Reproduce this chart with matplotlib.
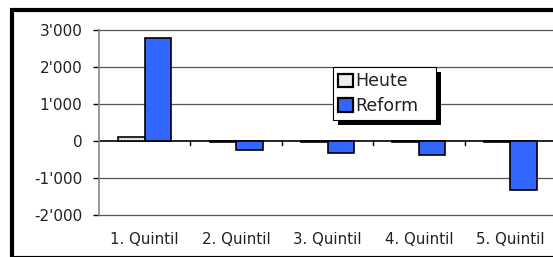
import matplotlib
matplotlib.use("Agg")
import matplotlib.pyplot as plt
import numpy as np
from matplotlib.patches import Rectangle
from matplotlib.ticker import FuncFormatter

categories = ["1. Quintil", "2. Quintil", "3. Quintil", "4. Quintil", "5. Quintil"]
heute = [100, -15, -20, -25, -40]
reform = [2780, -230, -315, -390, -1325]
series_names = ["Heute", "Reform"]

W, H = 553, 257
fig = plt.figure(figsize=(W / 100, H / 100), dpi=100)
plt.rcParams['font.family'] = ['DejaVu Sans']

# outer chart frame
fig.patches.append(Rectangle((12 / W, 1 - 258 / H), (560 - 12) / W, (258 - 10) / H,
                             transform=fig.transFigure, fill=False, edgecolor='black',
                             linewidth=3, clip_on=False))

ax = fig.add_axes([99 / W, 1 - 215 / H, (556 - 99) / W, (215 - 30) / H])
x = np.arange(len(categories))
bw = 0.29
# Heute: light dotted fill, then black outline
ax.bar(x - bw / 2, heute, bw, color='white', edgecolor='#bbbbbb', linewidth=0,
       hatch='......', zorder=3)
ax.bar(x - bw / 2, heute, bw, fill=False, edgecolor='black', linewidth=1.2, zorder=4)
ax.bar(x + bw / 2, reform, bw, color='#3366ff', edgecolor='black', linewidth=1.2, zorder=4)

ax.set_xlim(-0.5, len(categories) - 0.5)
ax.set_ylim(-2000, 3000)
ax.set_yticks(np.arange(-2000, 3001, 1000))
ax.yaxis.set_major_formatter(FuncFormatter(lambda v, p: f"{int(v):,}".replace(",", "'")))
for v in np.arange(-2000, 3001, 1000):
    if v != 0:
        ax.axhline(v, color='#555555', linewidth=0.9, zorder=0, clip_on=False)
for s in ['top', 'right', 'bottom']:
    ax.spines[s].set_visible(False)
ax.spines['left'].set_color('#888888')
ax.spines['left'].set_linewidth(1.2)
ax.axhline(0, color='black', linewidth=1.2, zorder=2)
ax.tick_params(axis='y', length=4.5, width=1, direction='out', labelsize=11, pad=7.5,
               color='black', labelcolor='#222222')
ax.set_xticks(x)
ax.set_xticklabels([])
ax.tick_params(axis='x', length=0)
# category boundary ticks on zero line
for b in np.arange(0.5, len(categories) - 0.5, 1.0):
    ax.plot([b, b], [0, -110], color='black', linewidth=1, zorder=2, clip_on=False)
for i, c in enumerate(categories):
    ax.text(i, -2650, c, ha='center', va='center', fontsize=10.8, color='#222222')

handles = [Rectangle((0, 0), 1, 1, facecolor='#eeeeee', edgecolor='black', linewidth=1.6),
           Rectangle((0, 0), 1, 1, facecolor='#3366ff', edgecolor='black', linewidth=1.6)]
x0 = (333 - 99) / (556 - 99)
y1 = (215 - 67) / (215 - 30)
wl = (436 - 333) / (556 - 99)
leg = ax.legend(handles, series_names, loc='upper left',
                bbox_to_anchor=(x0, y1 - 0.3, wl, 0.3), mode='expand',
                frameon=True, fancybox=False, edgecolor='black', framealpha=1,
                fontsize=12.5, handlelength=0.85, handleheight=0.8, handletextpad=0.15,
                labelspacing=0.4, borderpad=0.3, borderaxespad=0)
leg.get_frame().set_linewidth(0.8)
leg.set_zorder(6)
for t in leg.get_texts():
    t.set_color('#222222')

# legend drop shadow (offset 5 px right and down)
fig.canvas.draw()
bb = leg.get_window_extent()
shadow = Rectangle((bb.x0 + 5, bb.y0 - 5), bb.width, bb.height, transform=None,
                   facecolor='black', edgecolor='none', zorder=5.5)
ax.add_artist(shadow)

fig.savefig("out.png", dpi=100)
